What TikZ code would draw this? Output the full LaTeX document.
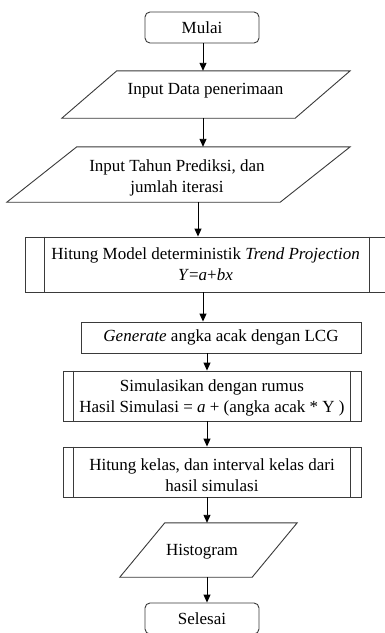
\documentclass[tikz,border=0pt]{standalone}
\usepackage{fontspec}
\setmainfont{Liberation Serif}
\usetikzlibrary{arrows.meta,calc}
\definecolor{linegray}{HTML}{3A3A3A}
\tikzset{
  flow/.style={draw=linegray, line width=0.9pt},
  txt/.style={font=\fontsize{17}{21}\selectfont, align=center, inner sep=0pt},
  geom/.style={rectangle, inner sep=0pt, minimum width=#1},
  termbox/.style={flow, txt, rectangle, rounded corners=5pt, minimum width=114pt, minimum height=31pt},
  procbox/.style={flow, txt, rectangle, minimum width=#1},
  arr/.style={draw=black, line width=0.9pt, -{Triangle[length=8pt,width=7pt]}},
}
\begin{document}
\begin{tikzpicture}[x=1pt,y=-1pt]
\useasboundingbox (0,0) rectangle (385,633);
\clip (0,0) rectangle (385,633);
\fill[white] (0,0) rectangle (385,633);

% axes for connectors
\coordinate (ax0) at (198,0);
\coordinate (ax1) at (203,0);
\coordinate (ax2) at (207,0);

% Mulai
\node[termbox] (mulai) at (202,27.5) {Mulai};

% Parallelogram 1
\node[geom=288pt, minimum height=47pt] (p1) at (206,94.5) {};
\draw[flow] ($(p1.north west)+(55,0)$) -- (p1.north east) -- ($(p1.south east)-(55,0)$) -- (p1.south west) -- cycle;
\node[txt] (t1) at (205.5,91) {Input Data penerimaan};

% Parallelogram 2
\node[geom=343pt, minimum height=55pt] (p2) at (178.5,174.5) {};
\draw[flow] ($(p2.north west)+(70,0)$) -- (p2.north east) -- ($(p2.south east)-(70,0)$) -- (p2.south west) -- cycle;
\node[txt] (t2) at (177,177.5) {Input Tahun Prediksi, dan\\jumlah iterasi};

% Box 3 (predefined process, right side runs past the picture edge)
\node[procbox=375pt, minimum height=55pt] (b3) at (212.5,264.5) {};
\draw[flow] ($(b3.north west)+(20,0)$) -- ($(b3.south west)+(20,0)$);
\draw[flow] ($(b3.north east)-(31,0)$) -- ($(b3.south east)-(31,0)$);
\node[txt] (t3) at (205.5,264) {Hitung Model deterministik \textit{Trend Projection}\\\textit{Y}=\textit{a}+\textit{bx}};

% Box 4
\node[procbox=280pt, minimum height=31pt] (b4) at (221,337.5) {\textit{Generate} angka acak dengan LCG};

% Box 5
\node[procbox=298pt, minimum height=50pt] (b5) at (212,396) {};
\draw[flow] ($(b5.north west)+(11,0)$) -- ($(b5.south west)+(11,0)$);
\draw[flow] ($(b5.north east)-(11,0)$) -- ($(b5.south east)-(11,0)$);
\node[txt] (t5) at (212,398) {Simulasikan dengan rumus\\Hasil Simulasi = \textit{a} + (angka acak * Y )};

% Box 6
\node[procbox=298pt, minimum height=50pt] (b6) at (212,472) {};
\draw[flow] ($(b6.north west)+(11,0)$) -- ($(b6.south west)+(11,0)$);
\draw[flow] ($(b6.north east)-(11,0)$) -- ($(b6.south east)-(11,0)$);
\node[txt] (t6) at (212,475) {Hitung kelas, dan interval kelas dari\\hasil simulasi};

% Parallelogram 7
\node[geom=177pt, minimum height=54pt] (p7) at (208.5,550) {};
\draw[flow] ($(p7.north west)+(45,0)$) -- (p7.north east) -- ($(p7.south east)-(45,0)$) -- (p7.south west) -- cycle;
\node[txt] (t7) at (202,552) {Histogram};

% Selesai
\node[termbox] (selesai) at (202,618.5) {Selesai};

% connectors
\draw[arr] (mulai.south -| ax1) -- (p1.north -| ax1);
\draw[arr] (p1.south -| ax1) -- (p2.north -| ax1);
\draw[arr] (p2.south -| ax0) -- (b3.north -| ax0);
\draw[arr] (b3.south -| ax1) -- (b4.north -| ax1);
\draw[arr] (b4.south -| ax2) -- (b5.north -| ax2);
\draw[arr] (b5.south -| ax2) -- (b6.north -| ax2);
\draw[arr] (b6.south -| ax2) -- (p7.north -| ax2);
\draw[arr] (p7.south -| ax2) -- (selesai.north -| ax2);
\end{tikzpicture}
\end{document}
